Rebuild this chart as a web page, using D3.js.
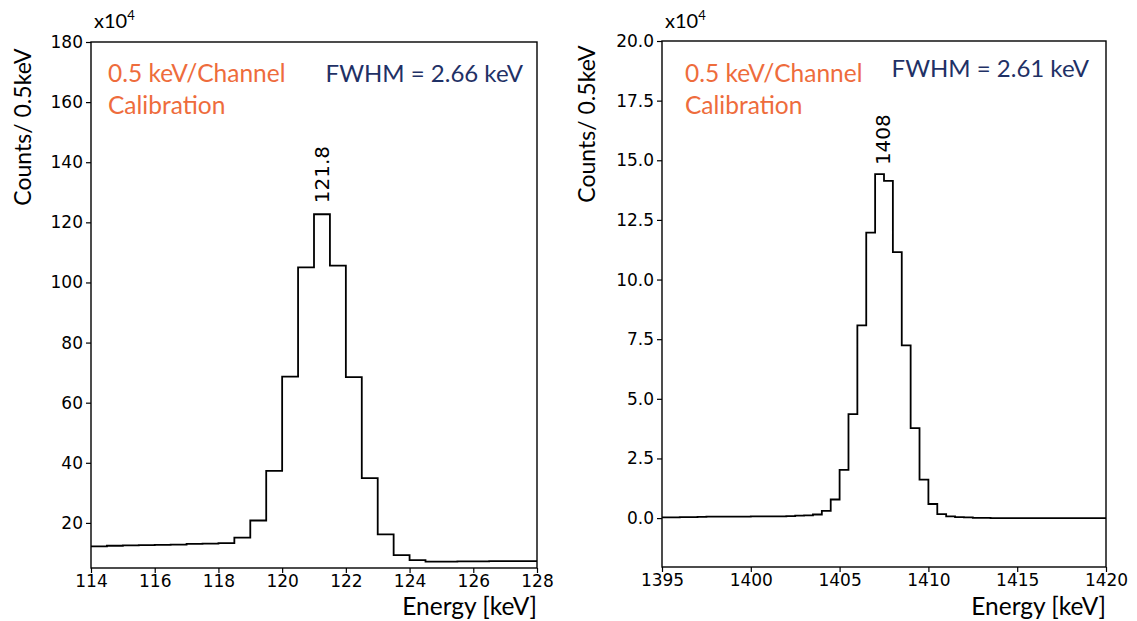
<!DOCTYPE html>
<html>
<head>
<meta charset="utf-8">
<script src="https://cdn.jsdelivr.net/npm/d3@7"></script>
<style>
  html, body { margin: 0; padding: 0; background: #fff; }
  svg { display: block; }
  .tick text { font-family: "DejaVu Sans", sans-serif; font-size: 17px; fill: #000; }
  .tick line { stroke: #000; stroke-width: 1.2; }
  .domain { display: none; }
</style>
</head>
<body>
<svg id="chart" width="1137" height="621"></svg>
<script>
// Bin width of the spectra (keV per channel)
const binWidth = 0.5;

// Low-energy peak: bin left edges (keV) and counts (x10^4)
const binStartsA = d3.range(114, 128, binWidth);
const countsA = [
  12.2, 12.4, 12.5, 12.6, 12.7, 12.8, 13.0, 13.1, 13.3, 15.1,
  20.8, 37.3, 68.7, 105.0, 122.7, 105.6, 68.5, 34.9, 16.2, 9.3,
  7.6, 7.1, 7.1, 7.2, 7.2, 7.3, 7.3, 7.3
];
const xTicksA = [114, 116, 118, 120, 122, 124, 126, 128];
const yTicksA = [20, 40, 60, 80, 100, 120, 140, 160, 180];
const peakA = { label: "121.8", center: 121.25, value: 122.7 };
const fwhmA = "FWHM = 2.66 keV";

// High-energy peak: bin left edges (keV) and counts (x10^4)
const binStartsB = d3.range(1395, 1420, binWidth);
const countsB = [
  0.03, 0.03, 0.04, 0.04, 0.05, 0.06, 0.06, 0.06, 0.06, 0.06,
  0.07, 0.07, 0.07, 0.07, 0.08, 0.10, 0.11, 0.15, 0.30, 0.78,
  2.02, 4.36, 8.08, 11.97, 14.42, 14.14, 11.15, 7.24, 3.77, 1.61,
  0.59, 0.17, 0.07, 0.04, 0.03, 0.01, 0.01, 0.0, 0.0, 0.0,
  0.0, 0.0, 0.0, 0.0, 0.0, 0.0, 0.0, 0.0, 0.0, 0.0
];
const xTicksB = [1395, 1400, 1405, 1410, 1415, 1420];
const yTicksB = [0, 2.5, 5, 7.5, 10, 12.5, 15, 17.5, 20];
const peakB = { label: "1408", center: 1407.45, value: 14.42 };
const fwhmB = "FWHM = 2.61 keV";

const calibLines = ["0.5 keV/Channel", "Calibration"];
const yTitle = "Counts/ 0.5keV";
const xTitle = "Energy [keV]";

const orange = "#EE6C3C";
const navy = "#1F3166";
const textFont = "Lato, 'Open Sans', sans-serif";

const svg = d3.select("#chart");

function panel(cfg) {
  const x = d3.scaleLinear().domain(cfg.xDomain).range([cfg.left, cfg.right]);
  const y = d3.scaleLinear().domain(cfg.yDomain).range([cfg.bottom, cfg.top]);
  const g = svg.append("g");

  // step outline of the histogram
  const pts = [];
  cfg.starts.forEach((s, i) => {
    pts.push([s, cfg.counts[i]]);
    pts.push([s + binWidth, cfg.counts[i]]);
  });
  const line = d3.line().x(d => x(d[0])).y(d => y(d[1]));
  g.append("path")
    .attr("d", line(pts))
    .attr("fill", "none")
    .attr("stroke", "#000")
    .attr("stroke-width", 1.8)
    .attr("stroke-linejoin", "miter");

  // axes
  g.append("g")
    .attr("transform", `translate(0,${cfg.bottom})`)
    .call(d3.axisBottom(x).tickValues(cfg.xTicks).tickSize(5).tickPadding(2).tickFormat(d3.format("d")));
  g.append("g")
    .attr("transform", `translate(${cfg.left},0)`)
    .call(d3.axisLeft(y).tickValues(cfg.yTicks).tickSize(5).tickPadding(3).tickFormat(cfg.yFormat));

  // frame
  g.append("rect")
    .attr("x", cfg.left).attr("y", cfg.top)
    .attr("width", cfg.right - cfg.left).attr("height", cfg.bottom - cfg.top)
    .attr("fill", "none").attr("stroke", "#000").attr("stroke-width", 1.4);

  // multiplier
  const mult = g.append("text")
    .attr("x", cfg.left + 3).attr("y", 28)
    .attr("font-family", textFont).attr("font-size", 20).attr("fill", "#000");
  mult.append("tspan").text("x10");
  mult.append("tspan").attr("dy", -8).attr("font-size", 13).text("4");

  // axis titles
  g.append("text")
    .attr("transform", `translate(${cfg.yTitleX},${cfg.yTitleY}) rotate(-90)`)
    .attr("text-anchor", "middle")
    .attr("dominant-baseline", "central")
    .attr("font-family", textFont).attr("font-size", 23).attr("fill", "#000")
    .text(yTitle);
  g.append("text")
    .attr("x", cfg.right).attr("y", 615)
    .attr("text-anchor", "end")
    .attr("font-family", textFont).attr("font-size", 24.5).attr("fill", "#000")
    .text(xTitle);

  // peak energy label
  g.append("text")
    .attr("transform", `translate(${x(cfg.peak.center)},${y(cfg.peak.value) - cfg.peakGap}) rotate(-90)`)
    .attr("text-anchor", "start")
    .attr("dominant-baseline", "central")
    .attr("font-family", "'DejaVu Sans', sans-serif").attr("font-size", 20).attr("fill", "#000")
    .text(cfg.peak.label);

  // annotations
  calibLines.forEach((t, i) => {
    g.append("text")
      .attr("x", cfg.calibX).attr("y", cfg.calibY + i * 32)
      .attr("font-family", textFont).attr("font-size", 24.5).attr("fill", orange)
      .text(t);
  });
  g.append("text")
    .attr("x", cfg.fwhmX).attr("y", cfg.fwhmY)
    .attr("text-anchor", "end")
    .attr("font-family", textFont).attr("font-size", 24).attr("fill", navy)
    .text(cfg.fwhm);
}

panel({
  xDomain: [114, 128], yDomain: [5, 180],
  left: 91, right: 537, top: 42, bottom: 568,
  starts: binStartsA, counts: countsA,
  xTicks: xTicksA, yTicks: yTicksA, yFormat: d3.format("d"),
  yTitleX: 22, yTitleY: 127,
  peak: peakA, peakGap: 11,
  calibX: 108, calibY: 82, fwhm: fwhmA, fwhmX: 523, fwhmY: 82
});

panel({
  xDomain: [1395, 1420], yDomain: [-2.05, 20],
  left: 662, right: 1106, top: 41, bottom: 567,
  starts: binStartsB, counts: countsB,
  xTicks: xTicksB, yTicks: yTicksB, yFormat: d3.format(".1f"),
  yTitleX: 586, yTitleY: 124,
  peak: peakB, peakGap: 9,
  calibX: 685, calibY: 82, fwhm: fwhmB, fwhmX: 1089, fwhmY: 77
});
</script>
</body>
</html>
